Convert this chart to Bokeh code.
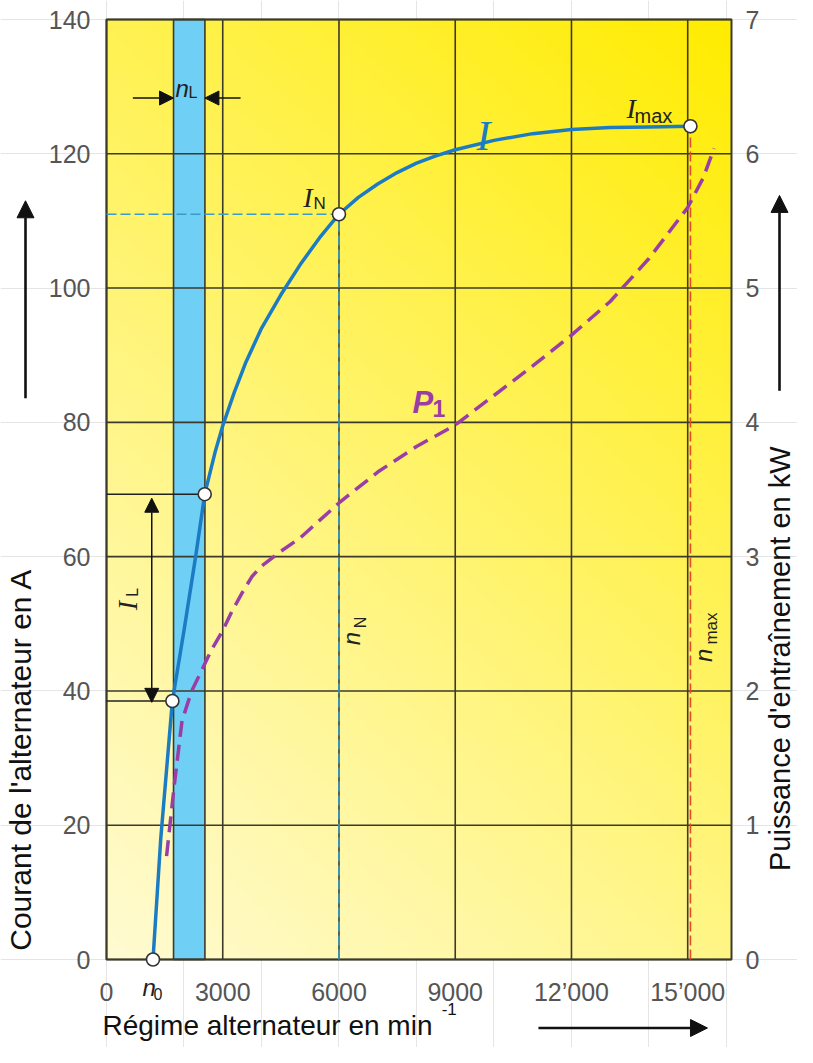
import numpy as np
from bokeh.plotting import figure
from bokeh.models import Range1d, LinearAxis, FixedTicker, Label, Arrow, NormalHead
from bokeh.embed import file_html
from bokeh.resources import INLINE

# ---------------- data ----------------
rpm_I = [1200, 1400, 1700, 2000, 2300, 2535, 2800, 3000, 3300, 3600, 4000, 4500, 5000, 5500,
         6000, 6500, 7000, 7500, 8000, 8500, 9000, 10000, 11000, 12000, 13000, 14000, 15050]
current_A = [0, 18, 38.5, 49, 60, 69.3, 75.5, 79.5, 84.5, 89, 94, 99, 103.5, 107.5,
             111, 113.5, 115.5, 117.2, 118.6, 119.7, 120.6, 122, 123, 123.6, 123.9, 124.0, 124.1]

rpm_P = [1550, 1750, 1950, 2200, 2450, 2700, 3000, 3250, 3500, 3750, 4000, 4500, 5000,
         6000, 7000, 8000, 9000, 10000, 11000, 12000, 13000, 14000, 15000, 15400, 15680]
power_kW = [0.77, 1.3, 1.78, 2.0, 2.15, 2.3, 2.45, 2.6, 2.73, 2.85, 2.93, 3.04, 3.14,
            3.4, 3.63, 3.82, 3.98, 4.2, 4.42, 4.65, 4.9, 5.22, 5.6, 5.82, 6.04]

n0_rpm = 1200
nL_rpm = [1730, 2540]
IL_rpm = [1700, 2535]
IL_A = [38.5, 69.3]
nN_rpm, IN_A = 6000, 111.0
nmax_rpm, Imax_A = 15070, 124.1

x_ticks = [0, 3000, 6000, 9000, 12000, 15000]
x_tick_labels = ["0", "3000", "6000", "9000", "12’000", "15’000"]
y_ticks = [0, 20, 40, 60, 80, 100, 120, 140]
kw_ticks = [0, 1, 2, 3, 4, 5, 6, 7]
X_END, Y_END = 16130, 140

# ---------------- layout (pixels of the plotting rectangle inside the canvas) ----------------
CW, CH = 797, 1047
FL, FR, FT, FB = 106, 731, 19, 959
kx = X_END / (FR - FL)
ky = Y_END / (FB - FT)
X0, X1 = -FL * kx, X_END + (CW - FR) * kx
Y0, Y1 = -(CH - FB) * ky, Y_END + FT * ky

DARK = "#3b3a2b"
TICK_COLOR = "#555555"
BLUE = "#1b7cc4"
PURPLE = "#9a3ea6"

p = figure(width=CW, height=CH, x_range=Range1d(X0, X1), y_range=Range1d(Y0, Y1),
           x_axis_location=None, y_axis_location=None,
           output_backend="svg", toolbar_location=None,
           min_border_left=0, min_border_right=0, min_border_top=0, min_border_bottom=0,
           background_fill_color="white", border_fill_color="white", outline_line_color=None)
p.extra_y_ranges = {"kW": Range1d(Y0 / 20, Y1 / 20)}

# gradient background
H, W = 200, 200
fy = np.linspace(0, 1, H)[:, None]
fx = np.linspace(0, 1, W)[None, :]
t = np.clip(0.62 * fy + 0.38 * fx, 0, 1) ** 1.05
pale = np.array([255, 251, 210])
bright = np.array([255, 236, 0])
img = np.zeros((H, W), dtype=np.uint32)
v = img.view(dtype=np.uint8).reshape((H, W, 4))
for k in range(3):
    v[:, :, k] = (pale[k] + (bright[k] - pale[k]) * t).astype(np.uint8)
v[:, :, 3] = 255
p.image_rgba(image=[img], x=0, y=0, dw=X_END, dh=Y_END)

# blue band nL
p.quad(left=[nL_rpm[0]], right=[nL_rpm[1]], bottom=[0], top=[Y_END],
       fill_color="#6fcff4", line_color=DARK, line_width=1.6)

# grid lines from the tick lists
p.segment(x0=x_ticks, y0=[0] * len(x_ticks), x1=x_ticks, y1=[Y_END] * len(x_ticks),
          line_color=DARK, line_width=1.6)
p.segment(x0=[0] * len(y_ticks), y0=y_ticks, x1=[X_END] * len(y_ticks), y1=y_ticks,
          line_color=DARK, line_width=1.6)
p.quad(left=[0], right=[X_END], bottom=[0], top=[Y_END], fill_color=None,
       line_color=DARK, line_width=2)

# axes at fixed locations
lax = LinearAxis(fixed_location=0, ticker=FixedTicker(ticks=y_ticks), bounds=(0, Y_END))
p.add_layout(lax, "left")
bax = LinearAxis(fixed_location=0, ticker=FixedTicker(ticks=x_ticks), bounds=(0, X_END))
bax.major_label_overrides = {t_: l for t_, l in zip(x_ticks, x_tick_labels)}
p.add_layout(bax, "below")
rax = LinearAxis(fixed_location=X_END, y_range_name="kW", ticker=FixedTicker(ticks=kw_ticks),
                 bounds=(0, 7))
p.add_layout(rax, "right")
for ax in (lax, bax, rax):
    ax.axis_line_color = None
    ax.major_tick_line_color = None
    ax.minor_tick_line_color = None
    ax.major_tick_out = 0
    ax.major_tick_in = 0
    ax.major_label_text_font = "Liberation Sans"
    ax.major_label_text_font_size = "25px"
    ax.major_label_text_color = TICK_COLOR
bax.major_label_standoff = 18
lax.major_label_standoff = 16
rax.major_label_standoff = 14

# reference lines
p.line([0, nN_rpm], [IN_A, IN_A], line_color="#3a9cc6", line_width=1.6, line_dash="10 4")
p.line([nN_rpm, nN_rpm], [0, IN_A], line_color="#3a9cc6", line_width=1.6, line_dash="10 4")
p.line([nmax_rpm, nmax_rpm], [0, Imax_A], line_color="#e84a1f", line_width=1.6, line_dash="10 4")
p.segment(x0=[0, 0], y0=IL_A, x1=IL_rpm, y1=IL_A, line_color="#222222", line_width=1.5)

# curves
p.line(rpm_P, power_kW, y_range_name="kW", line_color=PURPLE, line_width=3.5,
       line_dash="16 8")
p.line(rpm_I, current_A, line_color=BLUE, line_width=3.5)

# points
p.scatter(x=[n0_rpm, IL_rpm[0], IL_rpm[1], nN_rpm, nmax_rpm],
          y=[0, IL_A[0], IL_A[1], IN_A, Imax_A],
          size=13, fill_color="white", line_color="#333333", line_width=1.6)

# arrows
def head(sz=14):
    return NormalHead(size=sz, fill_color="#111111", line_color="#111111")

p.add_layout(Arrow(x_start=1168, y_start=38.3, x_end=1168, y_end=68.7, start=head(), end=head(),
                   line_color="#111111", line_width=1.5))
p.add_layout(Arrow(x_start=680, y_start=128.3, x_end=nL_rpm[0], y_end=128.3, end=head(),
                   line_color="#111111", line_width=1.5))
p.add_layout(Arrow(x_start=3460, y_start=128.3, x_end=nL_rpm[1], y_end=128.3, end=head(),
                   line_color="#111111", line_width=1.5))
# axis-title arrows (outside the plotting rectangle)
TITLE_R_X = -FL * kx + 779 * kx
p.add_layout(Arrow(x_start=-FL * kx + 25 * kx, y_start=83.6, x_end=-FL * kx + 25 * kx, y_end=113.0,
                   end=head(17), line_color="#111111", line_width=2.6))
p.add_layout(Arrow(x_start=TITLE_R_X, y_start=84.7, x_end=TITLE_R_X, y_end=113.8,
                   end=head(17), line_color="#111111", line_width=2.6))
p.add_layout(Arrow(x_start=11148, y_start=-10.2, x_end=15510, y_end=-10.2, end=head(17),
                   line_color="#111111", line_width=2.6))

def lab(x, y, text, size, font="Liberation Sans", style="normal", color="#222222",
        align="left", baseline="alphabetic", angle=0.0):
    p.add_layout(Label(x=x, y=y, text=text, text_font=font, text_font_size=f"{size}px",
                       text_font_style=style, text_color=color, text_align=align,
                       text_baseline=baseline, angle=angle))

SERIF = "Liberation Serif"
ROT = np.pi / 2
# curve labels
lab(9548, 122.7, "I", 42, font=SERIF, style="italic", color=BLUE)
lab(7897, 83.0, "P", 31, style="bold italic", color=PURPLE)
lab(8413, 82.1, "1", 23, style="bold", color=PURPLE)
lab(5076, 113.5, "I", 28, font=SERIF, style="italic")
lab(5342, 112.6, "N", 17)
lab(13420, 126.7, "I", 28, font=SERIF, style="italic")
lab(13626, 125.6, "max", 20)
lab(1781, 129.7, "n", 24, style="italic")
lab(2116, 129.1, "L", 16)
lab(929, -4.2, "n", 24, style="italic")
lab(1213, -5.1, "0", 16)
lab(542, 52.7, "I", 28, font=SERIF, style="italic", align="center", baseline="middle", angle=ROT)
lab(671, 54.7, "L", 16, align="center", baseline="middle", angle=ROT)
lab(6323, 47.8, "n", 24, style="italic", align="center", baseline="middle", angle=ROT)
lab(6555, 50.2, "N", 16, align="center", baseline="middle", angle=ROT)
lab(15400, 45.3, "n", 24, style="italic", align="center", baseline="middle", angle=ROT)
lab(15607, 49.3, "max", 17, align="center", baseline="middle", angle=ROT)

# axis titles
lab(-FL * kx + 20 * kx, 29.8, "Courant de l'alternateur en A", 30, color="#111111",
    align="center", baseline="middle", angle=ROT)
lab(TITLE_R_X, 44.8, "Puissance d'entraînement en kW", 29, color="#111111",
    align="center", baseline="middle", angle=ROT)
lab(-103, -9.8, "Régime alternateur en min", 28, color="#111111",
    baseline="middle")
lab(8650, -7.4, "-1", 17, color="#111111", baseline="middle")

open("out.html", "w").write(file_html(p, INLINE))
